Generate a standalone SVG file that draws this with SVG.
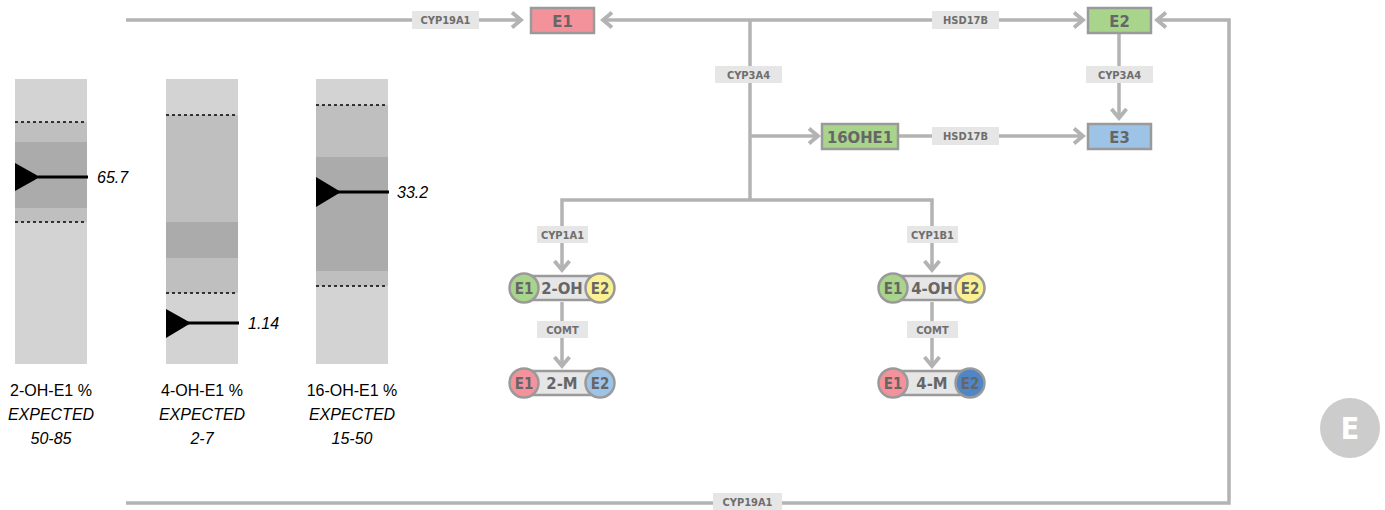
<svg xmlns="http://www.w3.org/2000/svg" width="1385" height="510" viewBox="0 0 1385 510">
<defs>
<marker id="ah" markerUnits="userSpaceOnUse" markerWidth="20" markerHeight="20" viewBox="-12 -10 14 20" refX="0" refY="0" orient="auto-start-reverse">
<path d="M-9,-7.5 L0,0 L-9,7.5" fill="none" stroke="#b3b3b3" stroke-width="3.8"/>
</marker>
</defs>
<style>
.ln{fill:none;stroke:#b3b3b3;stroke-width:3.5}
.lb{fill:#e6e6e6}
.lt{font-family:"DejaVu Sans Condensed","DejaVu Sans",sans-serif;font-stretch:condensed;font-weight:bold;font-size:11px;fill:#6e6e6e;text-anchor:middle}
.box{stroke:#9a9a9a;stroke-width:2.5}
.nt{font-family:"DejaVu Sans Condensed","DejaVu Sans",sans-serif;font-stretch:condensed;font-weight:bold;font-size:16.5px;fill:#666;text-anchor:middle}
.ct{font-family:"DejaVu Sans Condensed","DejaVu Sans",sans-serif;font-stretch:condensed;font-weight:bold;font-size:15px;fill:#666;text-anchor:middle}
.pill{fill:#e6e6e6;stroke:#9a9a9a;stroke-width:2.5}
.bg{fill:#d3d3d3}
.mid{fill:#bfbfbf}
.dk{fill:#ababab}
.dash{stroke:#000;stroke-width:1.5;stroke-dasharray:3,3}
.mk{fill:#000}
.ml{stroke:#000;stroke-width:3}
.val{font-family:"Liberation Sans",Arial,sans-serif;font-style:italic;font-size:16px;fill:#000}
.cap{font-family:"Liberation Sans",Arial,sans-serif;font-size:16px;fill:#000;text-anchor:middle}
.capi{font-family:"Liberation Sans",Arial,sans-serif;font-size:16px;font-style:italic;fill:#000;text-anchor:middle}
</style>
<rect width="1385" height="510" fill="#fff"/>

<g id="bar-2oh">
<rect class="bg" x="15" y="79" width="72" height="285"/>
<rect class="mid" x="15" y="122" width="72" height="100"/>
<rect class="dk" x="15" y="142" width="72" height="66"/>
<line class="dash" x1="15" y1="122" x2="87" y2="122"/>
<line class="dash" x1="15" y1="222" x2="87" y2="222"/>
<line class="ml" x1="38" y1="177" x2="88" y2="177"/>
<polygon class="mk" points="15,163 15,191 40,177"/>
<text class="val" x="97" y="182.5">65.7</text>
<text class="cap" x="51" y="396">2-OH-E1 %</text>
<text class="capi" x="51" y="420">EXPECTED</text>
<text class="capi" x="51" y="444">50-85</text>
</g>

<g id="bar-4oh">
<rect class="bg" x="166" y="79" width="72" height="285"/>
<rect class="mid" x="166" y="115" width="72" height="178"/>
<rect class="dk" x="166" y="222" width="72" height="36"/>
<line class="dash" x1="166" y1="115" x2="238" y2="115"/>
<line class="dash" x1="166" y1="293" x2="238" y2="293"/>
<line class="ml" x1="188" y1="323" x2="239" y2="323"/>
<polygon class="mk" points="166,309 166,338 191,323"/>
<text class="val" x="248" y="328.5">1.14</text>
<text class="cap" x="202" y="396">4-OH-E1 %</text>
<text class="capi" x="202" y="420">EXPECTED</text>
<text class="capi" x="202" y="444">2-7</text>
</g>

<g id="bar-16oh">
<rect class="bg" x="316" y="79" width="72" height="285"/>
<rect class="mid" x="316" y="105" width="72" height="181"/>
<rect class="dk" x="316" y="157" width="72" height="114"/>
<line class="dash" x1="316" y1="105" x2="388" y2="105"/>
<line class="dash" x1="316" y1="286" x2="388" y2="286"/>
<line class="ml" x1="338" y1="192" x2="389" y2="192"/>
<polygon class="mk" points="316,177 316,207 341,192"/>
<text class="val" x="397" y="197.5">33.2</text>
<text class="cap" x="352" y="396">16-OH-E1 %</text>
<text class="capi" x="352" y="420">EXPECTED</text>
<text class="capi" x="352" y="444">15-50</text>
</g>

<g id="connectors">
<path class="ln" d="M126,20 H521" marker-end="url(#ah)"/>
<path class="ln" d="M603,20 H1083" marker-start="url(#ah)" marker-end="url(#ah)"/>
<path class="ln" d="M750,20 V200"/>
<path class="ln" d="M750,136 H818" marker-end="url(#ah)"/>
<path class="ln" d="M899,136 H1083" marker-end="url(#ah)"/>
<path class="ln" d="M1119,34 V118" marker-end="url(#ah)"/>
<path class="ln" d="M750,200 H562 V270" marker-end="url(#ah)"/>
<path class="ln" d="M750,200 H932 V270" marker-end="url(#ah)"/>
<path class="ln" d="M562,302 V366" marker-end="url(#ah)"/>
<path class="ln" d="M932,302 V366" marker-end="url(#ah)"/>
<path class="ln" d="M126,503 H1229 V20 H1157" marker-end="url(#ah)"/>
<rect class="lb" x="412" y="11" width="67" height="18"/><text class="lt" x="445.5" y="24">CYP19A1</text>
<rect class="lb" x="932" y="11" width="67" height="18"/><text class="lt" x="965.5" y="24">HSD17B</text>
<rect class="lb" x="715" y="66" width="67" height="17"/><text class="lt" x="748.5" y="78.5">CYP3A4</text>
<rect class="lb" x="1086" y="66" width="67" height="17"/><text class="lt" x="1119.5" y="78.5">CYP3A4</text>
<rect class="lb" x="932" y="127" width="67" height="18"/><text class="lt" x="965.5" y="140">HSD17B</text>
<rect class="lb" x="537" y="226" width="51" height="17"/><text class="lt" x="562.5" y="238.5">CYP1A1</text>
<rect class="lb" x="907" y="226" width="51" height="17"/><text class="lt" x="932.5" y="238.5">CYP1B1</text>
<rect class="lb" x="537" y="321" width="51" height="17"/><text class="lt" x="562.5" y="333.5">COMT</text>
<rect class="lb" x="907" y="321" width="51" height="17"/><text class="lt" x="932.5" y="333.5">COMT</text>
<rect class="lb" x="713" y="493" width="69" height="17"/><text class="lt" x="747.5" y="505.5">CYP19A1</text>
</g>

<g id="E1">
<rect class="box" x="531" y="8" width="63" height="25" fill="#f4929b"/>
<text class="nt" x="562.5" y="26.5">E1</text>
</g>
<g id="E2">
<rect class="box" x="1088" y="8" width="63" height="25" fill="#a8d48b"/>
<text class="nt" x="1119.5" y="26.5">E2</text>
</g>
<g id="OHE1-16">
<rect class="box" x="822" y="124" width="76" height="25" fill="#a8d48b"/>
<text class="nt" x="860" y="142.5">16OHE1</text>
</g>
<g id="E3">
<rect class="box" x="1088" y="124" width="63" height="25" fill="#9dc3e6"/>
<text class="nt" x="1119.5" y="142.5">E3</text>
</g>

<g id="OH2">
<rect class="pill" x="524" y="276" width="76" height="24"/>
<circle class="box" cx="524" cy="288" r="14.5" fill="#a8d48b"/>
<circle class="box" cx="600" cy="288" r="14.5" fill="#fbf191"/>
<text class="ct" x="524" y="293.5">E1</text>
<text class="ct" x="600" y="293.5">E2</text>
<text class="nt" x="562" y="294">2-OH</text>
</g>
<g id="OH4">
<rect class="pill" x="893" y="276" width="77" height="24"/>
<circle class="box" cx="893" cy="288" r="14.5" fill="#a8d48b"/>
<circle class="box" cx="970" cy="288" r="14.5" fill="#fbf191"/>
<text class="ct" x="893" y="293.5">E1</text>
<text class="ct" x="970" y="293.5">E2</text>
<text class="nt" x="932" y="294">4-OH</text>
</g>
<g id="M2">
<rect class="pill" x="524" y="371" width="76" height="24"/>
<circle class="box" cx="524" cy="383" r="14.5" fill="#f4929b"/>
<circle class="box" cx="600" cy="383" r="14.5" fill="#9dc3e6"/>
<text class="ct" x="524" y="388.5">E1</text>
<text class="ct" x="600" y="388.5">E2</text>
<text class="nt" x="562" y="389">2-M</text>
</g>
<g id="M4">
<rect class="pill" x="893" y="371" width="77" height="24"/>
<circle class="box" cx="893" cy="383" r="14.5" fill="#f4929b"/>
<circle class="box" cx="970" cy="383" r="14.5" fill="#4f86c6"/>
<text class="ct" x="893" y="388.5">E1</text>
<text class="ct" x="970" y="388.5">E2</text>
<text class="nt" x="932" y="389">4-M</text>
</g>

<g id="badge">
<circle cx="1350" cy="428" r="30" fill="#cccccc"/>
<text x="1350" y="439" font-family="'DejaVu Sans Condensed','DejaVu Sans',sans-serif" font-stretch="condensed" font-weight="bold" font-size="30" fill="#fff" text-anchor="middle">E</text>
</g>
</svg>
